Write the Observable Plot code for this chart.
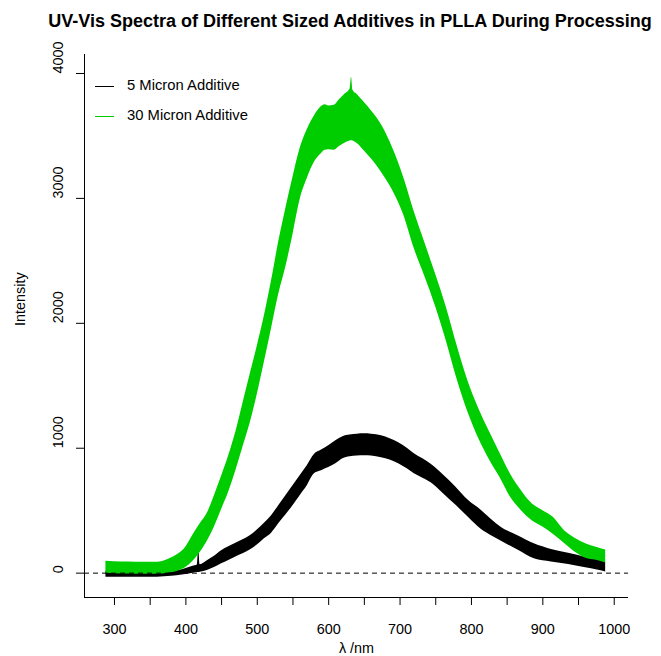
<!DOCTYPE html>
<html>
<head>
<meta charset="utf-8">
<script src="https://cdn.jsdelivr.net/npm/d3@7"></script>
<script src="https://cdn.jsdelivr.net/npm/@observablehq/plot@0.6"></script>
<style>
  body { margin: 0; background: #fff; font-family: "Liberation Sans", Arial, sans-serif; }
  #wrap { position: relative; width: 661px; height: 656px; }
  #title { position: absolute; left: 350px; top: 11px; transform: translateX(-50%);
           font-weight: bold; font-size: 18px; color: #000; white-space: nowrap; }
  .leg { position: absolute; left: 95px; font-size: 14.8px; color: #000; white-space: nowrap; }
  .leg span.sw { position: absolute; left: 0; top: 9px; width: 19px; height: 0; border-top: 1px solid; }
  .leg span.tx { position: absolute; left: 32px; top: 0; }
</style>
</head>
<body>
<div id="wrap"></div>
<script>
// ---- data ----
const title = "UV-Vis Spectra of Different Sized Additives in PLLA During Processing";
const seriesNames = ["5 Micron Additive", "30 Micron Additive"];
const seriesColors = ["#000000", "#00CD00"];

// 30 micron additive: wavelength (nm), upper and lower envelope of the overlaid spectra
const wl30 = [288,300,320,340,360,375,390,400,410,420,430,440,450,460,470,480,490,500,510,520,530,540,550,560,570,580,590,595,600,608,615,622,630,632,634,640,650,660,675,690,705,720,735,750,765,780,795,810,825,840,855,870,885,900,915,930,945,960,975,988];
const hi30 = [96,92,90,88,88,110,155,210,305,395,480,620,775,940,1130,1360,1590,1816,2060,2340,2650,2920,3170,3400,3550,3660,3735,3750,3740,3745,3790,3830,3875,3970,3865,3831,3767,3700,3580,3400,3170,2891,2640,2390,2125,1820,1540,1320,1135,960,790,660,555,500,445,342,280,235,207,185];
const lo30 = [0,-4,-6,-8,-8,0,18,45,95,165,255,370,510,650,820,1010,1200,1430,1690,1959,2230,2450,2710,2990,3160,3290,3360,3385,3390,3385,3415,3440,3460,3462,3460,3440,3380,3315,3200,3060,2870,2597,2370,2130,1855,1550,1290,1080,910,765,605,500,420,370,310,239,170,120,104,82];

// 5 micron additive
const wl5 = [288,300,320,340,360,380,395,410,416,418,420,430,440,450,460,470,480,490,500,510,520,530,540,550,560,570,580,590,600,610,620,630,640,650,660,674,686,698,710,720,732,744,760,778,796,814,828,842,865,888,912,936,958,978,988];
const hi5 = [16,12,10,8,8,14,28,55,65,200,68,100,135,180,212,240,268,300,345,400,460,540,620,700,780,860,950,985,1020,1060,1092,1105,1112,1115,1112,1099,1075,1043,1000,956,915,870,790,690,581,502,430,366,300,235,190,159,130,104,90];
const lo5 = [-32,-32,-32,-32,-32,-25,-14,0,6,6,8,22,45,75,102,130,155,185,225,275,320,395,465,540,620,700,796,820,845,875,915,932,937,940,937,924,905,876,835,796,760,722,640,545,446,350,300,255,185,115,90,70,45,24,10];

const xTicks = [300,350,400,450,500,550,600,650,700,750,800,850,900,950,1000];
const xLabelTicks = [300,400,500,600,700,800,900,1000];
const yTicks = [0,1000,2000,3000,4000];
const xDomain = [258, 1020];
const yDomain = [-195, 4152];
const xLabel = "λ /nm";
const yLabel = "Intensity";

const band = (wl, hi, lo) => wl.map((x, i) => ({x, hi: hi[i], lo: lo[i]}));

const chart = Plot.plot({
  width: 661,
  height: 656,
  marginLeft: 84,
  marginRight: 33,
  marginTop: 54,
  marginBottom: 59,
  x: {domain: xDomain},
  y: {domain: yDomain},
  style: {fontFamily: "'Liberation Sans', Arial, sans-serif", fontSize: "14.4px", background: "#fff", color: "#000"},
  marks: [
    Plot.areaY(band(wl5, hi5, lo5), {x: "x", y1: "lo", y2: "hi", fill: seriesColors[0], curve: "monotone-x"}),
    Plot.areaY(band(wl30, hi30, lo30), {x: "x", y1: "lo", y2: "hi", fill: seriesColors[1], curve: "monotone-x"}),
    Plot.ruleY([0], {stroke: "#000", strokeDasharray: "5,4"}),
    Plot.ruleX([xDomain[0]], {stroke: "#000"}),
    Plot.ruleY([yDomain[0]], {stroke: "#000"}),
    Plot.axisX({ticks: xTicks, tickSize: 8, tickFormat: () => "", label: null, stroke: "#000"}),
    Plot.axisX({ticks: xLabelTicks, tickSize: 0, tickPadding: 26, tickFormat: d => String(d), label: null, fontSize: 14.4, fill: "#000"}),
    Plot.axisY({ticks: yTicks, tickSize: 8, tickFormat: () => "", label: null, stroke: "#000"}),
    Plot.text(yTicks, {y: d => d, text: d => String(d), frameAnchor: "left", dx: -26, rotate: -90, fontSize: 14.4, fill: "#000"}),
    Plot.text([yLabel], {text: d => d, frameAnchor: "left", dx: -64, rotate: -90, fontSize: 14.4, fill: "#000"}),
    Plot.text([xLabel], {text: d => d, frameAnchor: "bottom", dy: 55, fontSize: 14.4, fill: "#000"})
  ]
});

const wrap = document.getElementById("wrap");
wrap.appendChild(chart);
const t = document.createElement("div");
t.id = "title";
t.textContent = title;
wrap.appendChild(t);
const legTops = [77, 107];
seriesNames.forEach((name, i) => {
  const d = document.createElement("div");
  d.className = "leg";
  d.style.top = legTops[i] + "px";
  const sw = document.createElement("span");
  sw.className = "sw";
  sw.style.borderColor = seriesColors[i];
  const tx = document.createElement("span");
  tx.className = "tx";
  tx.textContent = name;
  d.appendChild(sw);
  d.appendChild(tx);
  wrap.appendChild(d);
});
</script>
</body>
</html>
